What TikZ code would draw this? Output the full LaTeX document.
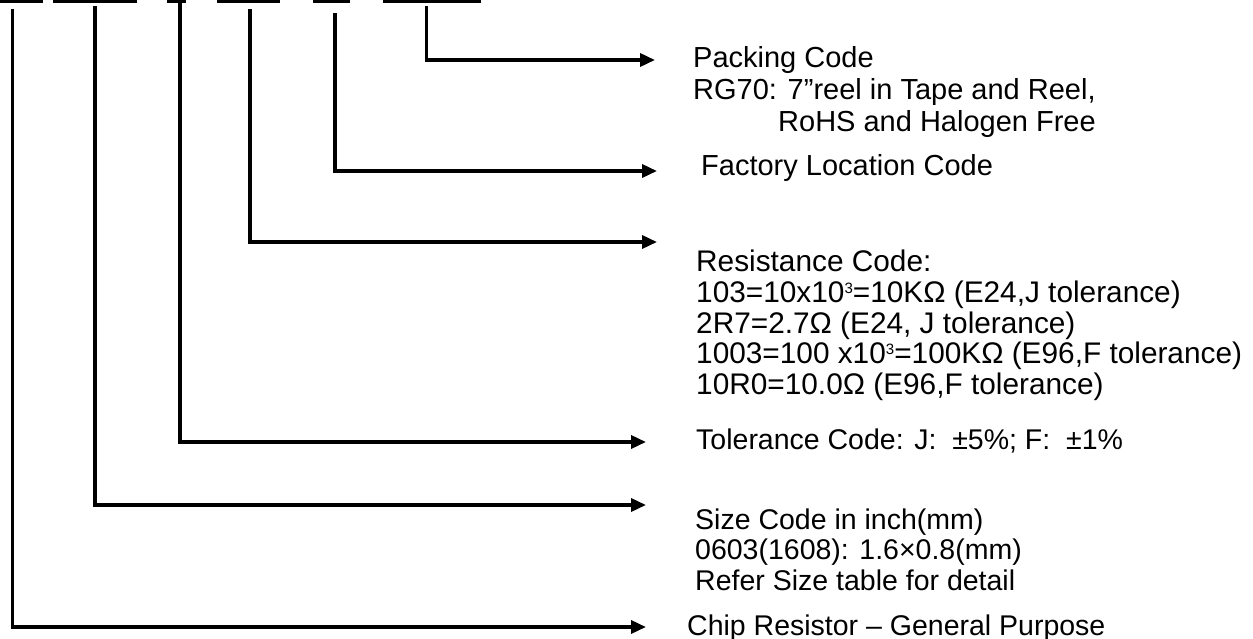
\documentclass[tikz,border=0pt]{standalone}
\usepackage{fontspec}
\setmainfont{Liberation Sans}
\usetikzlibrary{arrows.meta}
\newcommand\cubed{\raisebox{9pt}{\fontsize{15}{15}\selectfont 3}}
\begin{document}
\begin{tikzpicture}[x=1pt,y=-1pt,
  conn/.style={line width=3.5pt,-{Triangle[length=15pt,width=13pt]}},
  bar/.style={fill=black},
  lbl/.style={anchor=base west,inner sep=0pt,font=\fontsize{28.5}{#1}\selectfont},
  lbl/.default=31]
\useasboundingbox (0,0) rectangle (1253,639);
% top bars
\fill[bar] (0,0) rectangle (43,2.8);
\fill[bar] (53,0) rectangle (137,2.8);
\fill[bar] (167,0) rectangle (186,2.8);
\fill[bar] (217,0) rectangle (280,2.8);
\fill[bar] (313,0) rectangle (350,2.8);
\fill[bar] (383,0) rectangle (481,2.8);
% stems
\coordinate (s1) at (12.3,9);
\coordinate (s2) at (95,6);
\coordinate (s3) at (180,0);
\coordinate (s4) at (250,9);
\coordinate (s5) at (335,13);
\coordinate (s6) at (426.5,6);
% arrow ends
\coordinate (e6) at (655,60);
\coordinate (e5) at (657,171);
\coordinate (e4) at (657,242);
\coordinate (e3) at (646,442);
\coordinate (e2) at (646,505);
\coordinate (e1) at (646,627);
\draw[conn] (s6) |- (e6);
\draw[conn] (s5) |- (e5);
\draw[conn] (s4) |- (e4);
\draw[conn] (s3) |- (e3);
\draw[conn] (s2) |- (e2);
\draw[conn] (s1) |- (e1);
% labels
\node[lbl=32,font=\fontsize{29}{32}\selectfont] (pack) at (693,68) {\begin{tabular}[t]{@{}l@{}}Packing Code\\RG70: 7”reel in Tape and Reel,\\\hspace*{85pt}RoHS and Halogen Free\end{tabular}};
\node[lbl,font=\fontsize{29}{31}\selectfont] (fact) at (701,176) {Factory Location Code};
\node[lbl,font=\fontsize{29.8}{30}\selectfont] (res) at (696,272) {\begin{tabular}[t]{@{}l@{}}Resistance Code:\\103=10x10\cubed=10KΩ (E24,J tolerance)\\2R7=2.7Ω (E24, J tolerance)\\1003=100 x10\cubed=100KΩ (E96,F tolerance)\\10R0=10.0Ω (E96,F tolerance)\end{tabular}};
\node[lbl] (tol) at (696,449) {Tolerance Code: J:\ \ ±5\%; F:\ \ ±1\%};
\node[lbl=30.5] (size) at (695,529) {\begin{tabular}[t]{@{}l@{}}Size Code in inch(mm)\\0603(1608): 1.6×0.8(mm)\\Refer Size table for detail\end{tabular}};
\node[lbl] (chip) at (687,635) {Chip Resistor – General Purpose};
\end{tikzpicture}
\end{document}
